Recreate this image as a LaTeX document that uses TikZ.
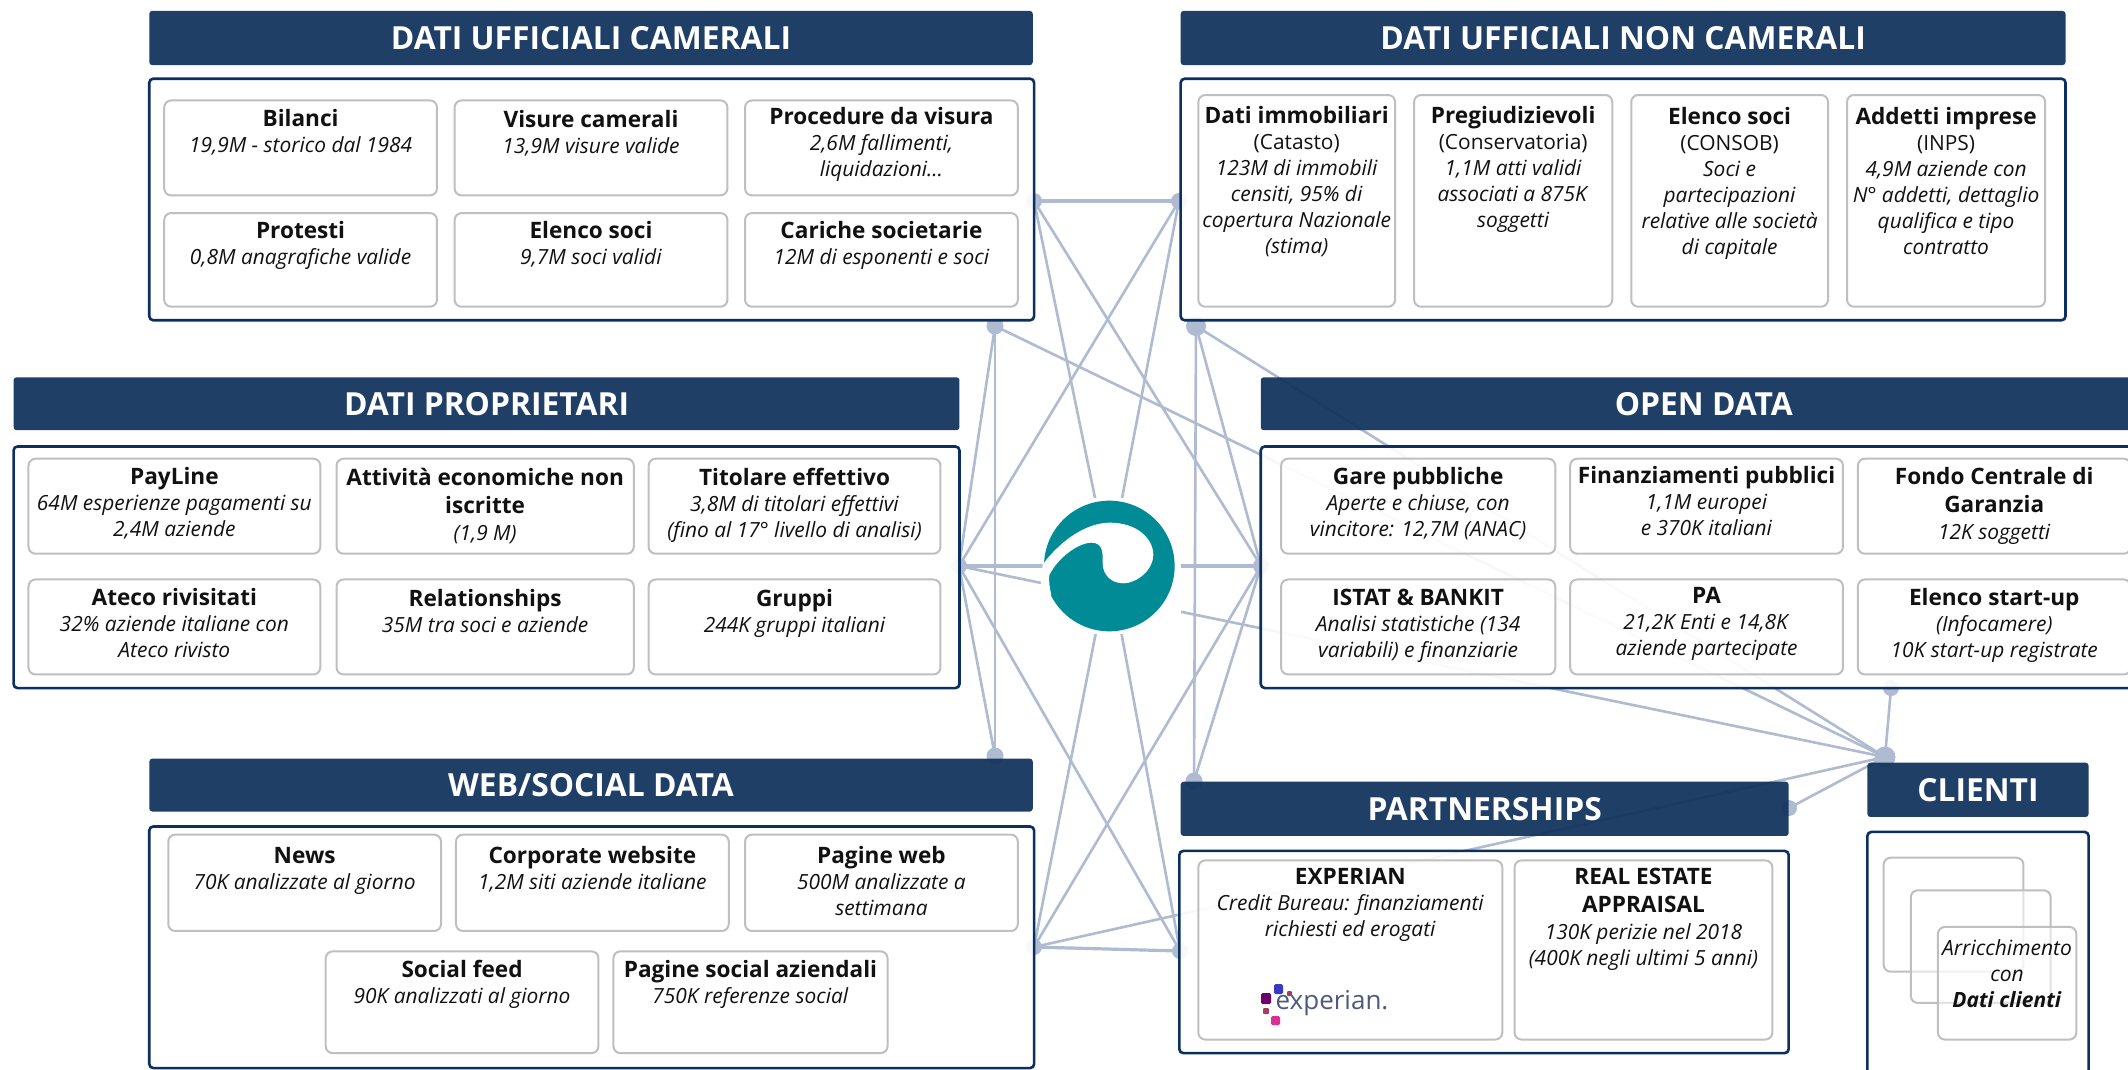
\documentclass[tikz,border=0pt]{standalone}
\usepackage{fontspec}
\setmainfont{Open Sans}
\definecolor{hdr}{HTML}{14355F}
\definecolor{pnl}{HTML}{0B2F60}
\definecolor{crd}{HTML}{BFBFBF}
\definecolor{lnk}{HTML}{AEBBD0}
\definecolor{teal2}{HTML}{008B96}
\definecolor{txt}{HTML}{111111}
\definecolor{exptxt}{HTML}{4D5A7C}
\tikzset{
  link/.style={draw=lnk,line width=2.6pt},
  linkb/.style={draw=lnk,line width=3.2pt},
  hub/.style={circle,fill=lnk,inner sep=0pt,minimum size=#1},
  header/.style={fill=hdr,fill opacity=.95,rounded corners=3pt,inner sep=0pt,text=white,text opacity=1,font=\fontsize{31.8}{34}\selectfont\bfseries},
  panel/.style={draw=pnl,line width=2.6pt,fill=white,fill opacity=.9,draw opacity=1,rounded corners=4pt,inner sep=0pt},
  cardbox/.style={draw=crd,line width=2pt,fill=white,fill opacity=.55,draw opacity=1,rounded corners=7pt,inner sep=0pt},
  cardtext/.style={anchor=north,align=center,inner sep=0pt,text=txt,font=\fontsize{20.9}{26}\selectfont}
}
\newcommand{\boxnode}[6]{% style, name, x0,y0,x1,y1 in 1568-scale
  \pgfmathsetmacro{\xa}{#3*1.3571}\pgfmathsetmacro{\ya}{#4*1.3571}
  \pgfmathsetmacro{\xb}{#5*1.3571}\pgfmathsetmacro{\yb}{#6*1.3571}
  \pgfmathsetmacro{\myw}{\xb-\xa}\pgfmathsetmacro{\myh}{\yb-\ya}
  \node[#1,minimum width=\myw pt,minimum height=\myh pt] (#2) at ({(\xa+\xb)/2},{(\ya+\yb)/2}) {};}
\newcommand{\hdrnode}[6]{%
  \pgfmathsetmacro{\xa}{#2*1.3571}\pgfmathsetmacro{\ya}{#3*1.3571}
  \pgfmathsetmacro{\xb}{#4*1.3571}\pgfmathsetmacro{\yb}{#5*1.3571}
  \pgfmathsetmacro{\myw}{\xb-\xa}\pgfmathsetmacro{\myh}{\yb-\ya}
  \node[header,minimum width=\myw pt,minimum height=\myh pt] (#1) at ({(\xa+\xb)/2},{(\ya+\yb)/2}) {#6};}
\newcommand{\ct}[1]{{\fontsize{22.6}{26}\selectfont\bfseries #1}}
\newcommand{\card}[7]{% name x0 y0 x1 y1 titlecentre text
  \boxnode{cardbox}{#1}{#2}{#3}{#4}{#5}
  \pgfmathsetmacro{\cx}{(#2+#4)/2*1.3571}\pgfmathsetmacro{\ty}{#6*1.3571+8-20}
  \node[cardtext] (#1t) at (\cx,\ty) {\rule{0pt}{20pt}#7};}
\begin{document}
\begin{tikzpicture}[x=1pt,y=-1pt]
\useasboundingbox (0,0) rectangle (2128,1069);
\fill[white] (0,0) rectangle (2128,1069);
% hub positions
\coordinate (pA) at (1034,201);
\coordinate (pB) at (1179,201);
\coordinate (pC) at (995,326);
\coordinate (pD) at (1196,326);
\coordinate (pE) at (959,566);
\coordinate (pF) at (1261,566);
\coordinate (pG) at (995,756);
\coordinate (pH) at (1194,781);
\coordinate (pI) at (1034,947);
\coordinate (pJ) at (1180,951);
\coordinate (pK) at (1891,688);
\coordinate (pL) at (1885,757);
\coordinate (pM) at (1789,808);
\coordinate (pO) at (1109,566);
% connectors
\draw[linkb] (pA)--(pB);
\draw[link] (pA)--(pO);
\draw[link] (pB)--(pO);
\draw[link] (pI)--(pO);
\draw[link] (pJ)--(pO);
\draw[linkb] (pE)--(pF);
\draw[link] (pA)--(pF);
\draw[link] (pB)--(pE);
\draw[link] (pC)--(pG);
\draw[link] (pC)--(pE);
\draw[link] (pE)--(pG);
\draw[link] (pE)--(pJ);
\draw[link] (pD)--(pH);
\draw[link] (pD)--(pF);
\draw[link] (pH)--(pF);
\draw[link] (pI)--(pF);
\draw[linkb] (pI)--(pJ);
\draw[link] (pC)--(pL);
\draw[link] (pD)--(pL);
\draw[link] (pE)--(pL);
\draw[link] (pI)--(pL);
\draw[link] (pK)--(pL);
\draw[link] (pM)--(pL);
% hubs
\node[hub=16pt] (hA) at (pA) {}; \node[hub=16pt] (hB) at (pB) {};
\node[hub=17pt] (hC) at (pC) {}; \node[hub=20pt] (hD) at (pD) {};
\node[hub=16pt] (hE) at (pE) {}; \node[hub=16pt] (hF) at (pF) {};
\node[hub=17pt] (hG) at (pG) {}; \node[hub=17pt] (hH) at (pH) {};
\node[hub=16pt] (hI) at (pI) {}; \node[hub=16pt] (hJ) at (pJ) {};
\node[hub=16pt] (hK) at (pK) {}; \node[hub=21pt] (hL) at (pL) {};
\node[hub=16pt] (hM) at (pM) {};
% logo
\node[fill=white,minimum size=136pt,inner sep=0pt] (logo) at (1112.5,566) {};
\begin{scope}[shift={(940,480)},x=0.3333pt,y=-0.3333pt]
  \fill[teal2] (508,258) circle (196);
  \fill[white] (308,254) .. controls (350,195) and (430,128) .. (510,128)
     .. controls (590,128) and (640,175) .. (640,225)
     .. controls (640,270) and (590,310) .. (550,310)
     .. controls (515,310) and (488,285) .. (488,250)
     .. controls (488,225) and (492,188) .. (455,188)
     .. controls (415,188) and (355,232) .. (328,285)
     .. controls (326,300) and (328,320) .. (334,345)
     -- (300,345) -- cycle;
\end{scope}
% panels
\boxnode{panel}{p1}{110}{58}{762}{236}
\boxnode{panel}{p2}{870}{58}{1522}{236}
\boxnode{panel}{p3}{10}{329}{707}{507}
\boxnode{panel}{p4}{929}{329}{1600}{507}
\boxnode{panel}{p5}{110}{609}{762}{787}
\boxnode{panel}{p6}{869}{627}{1318}{776}
\boxnode{panel}{p7}{1376}{613}{1539}{830}
% headers
\hdrnode{h1}{110}{8}{761}{48}{DATI UFFICIALI CAMERALI}
\hdrnode{h2}{870}{8}{1522}{48}{DATI UFFICIALI NON CAMERALI}
\hdrnode{h3}{10}{278}{707}{317}{DATI PROPRIETARI}
\hdrnode{h4x}{929}{278}{1582}{317}{OPEN DATA}
\hdrnode{h5}{110}{559}{761}{598}{WEB/SOCIAL DATA}
\hdrnode{h6}{870}{576}{1318}{616}{PARTNERSHIPS}
\hdrnode{h7}{1376}{562}{1539}{602}{CLIENTI}
% cards: camerali
\card{a1}{121}{74}{322}{144}{87}{\ct{Bilanci}\\\textit{19,9M - storico dal 1984}}
\card{a2}{335}{74}{536}{144}{88}{\ct{Visure camerali}\\\textit{13,9M visure valide}}
\card{a3}{549}{74}{750}{144}{86}{\ct{Procedure da visura}\\\textit{2,6M fallimenti,}\\\textit{liquidazioni…}}
\card{a4}{121}{157}{322}{226}{170}{\ct{Protesti}\\\textit{0,8M anagrafiche valide}}
\card{a5}{335}{157}{536}{226}{170}{\ct{Elenco soci}\\\textit{9,7M soci validi}}
\card{a6}{549}{157}{750}{226}{170}{\ct{Cariche societarie}\\\textit{12M di esponenti e soci}}
% non camerali
\card{b1}{883}{70}{1028}{226}{85}{\ct{Dati immobiliari}\\(Catasto)\\\textit{123M di immobili}\\\textit{censiti, 95\% di}\\\textit{copertura Nazionale}\\\textit{(stima)}}
\card{b2}{1042}{70}{1188}{226}{85}{\ct{Pregiudizievoli}\\(Conservatoria)\\\textit{1,1M atti validi}\\\textit{associati a 875K}\\\textit{soggetti}}
\card{b3}{1202}{70}{1347}{226}{86}{\ct{Elenco soci}\\(CONSOB)\\\textit{Soci e}\\\textit{partecipazioni}\\\textit{relative alle società}\\\textit{di capitale}}
\card{b4}{1361}{70}{1507}{226}{86}{\ct{Addetti imprese}\\(INPS)\\\textit{4,9M aziende con}\\\textit{N° addetti, dettaglio}\\\textit{qualifica e tipo}\\\textit{contratto}}
% proprietari
\card{c1}{21}{338}{236}{408}{351}{\ct{PayLine}\\\textit{64M esperienze pagamenti su}\\\textit{2,4M aziende}}
\card{c2}{248}{338}{467}{408}{352}{\ct{Attività economiche non}\\[2pt]\ct{iscritte}\\[1pt]\textit{(1,9 M)}}
\card{c3}{478}{338}{693}{408}{352}{\ct{Titolare effettivo}\\\textit{3,8M di titolari effettivi}\\\textit{(fino al 17° livello di analisi)}}
\card{c4}{21}{427}{236}{497}{440}{\ct{Ateco rivisitati}\\\textit{32\% aziende italiane con}\\\textit{Ateco rivisto}}
\card{c5}{248}{427}{467}{497}{441}{\ct{Relationships}\\\textit{35M tra soci e aziende}}
\card{c6}{478}{427}{693}{497}{441}{\ct{Gruppi}\\\textit{244K gruppi italiani}}
% open data
\card{d1}{944}{338}{1146}{408}{351}{\ct{Gare pubbliche}\\\textit{Aperte e chiuse, con}\\\textit{vincitore: 12,7M (ANAC)}}
\card{d2}{1157}{338}{1358}{408}{350}{\ct{Finanziamenti pubblici}\\\textit{1,1M europei}\\\textit{e 370K italiani}}
\card{d3}{1369}{338}{1570}{408}{351}{\ct{Fondo Centrale di}\\[2pt]\ct{Garanzia}\\[1pt]\textit{12K soggetti}}
\card{d4}{944}{427}{1146}{497}{440}{\ct{ISTAT \& BANKIT}\\\textit{Analisi statistiche (134}\\\textit{variabili) e finanziarie}}
\card{d5}{1157}{427}{1358}{497}{439}{\ct{PA}\\\textit{21,2K Enti e 14,8K}\\\textit{aziende partecipate}}
\card{d6}{1369}{427}{1570}{497}{440}{\ct{Elenco start-up}\\\textit{(Infocamere)}\\\textit{10K start-up registrate}}
% web
\card{e1}{124}{615}{325}{686}{630}{\ct{News}\\\textit{70K analizzate al giorno}}
\card{e2}{336}{615}{537}{686}{630}{\ct{Corporate website}\\\textit{1,2M siti aziende italiane}}
\card{e3}{549}{615}{750}{686}{630}{\ct{Pagine web}\\\textit{500M analizzate a}\\\textit{settimana}}
\card{e4}{240}{701}{441}{776}{714}{\ct{Social feed}\\\textit{90K analizzati al giorno}}
\card{e5}{452}{701}{654}{776}{714}{\ct{Pagine social aziendali}\\\textit{750K referenze social}}
% partnerships
\card{f1}{883}{634}{1107}{766}{646}{\ct{EXPERIAN}\\\textit{Credit Bureau: finanziamenti}\\\textit{richiesti ed erogati}}
\card{f2}{1116}{634}{1306}{766}{646}{\ct{REAL ESTATE}\\[2pt]\ct{APPRAISAL}\\[1pt]\textit{130K perizie nel 2018}\\\textit{(400K negli ultimi 5 anni)}}
% experian logo
\node[inner sep=0pt,text=exptxt,font=\fontsize{26}{28}\selectfont] (explogo) at (1332,1003) {experian.};
\fill[violet!85!black,rounded corners=1.5pt] (1261,993) rectangle (1271,1004);
\fill[blue!55!gray,rounded corners=1.5pt] (1274,984) rectangle (1283,994);
\fill[purple!50!gray,rounded corners=1pt] (1287,991) rectangle (1292,996);
\fill[purple!50!gray,rounded corners=1pt] (1263,1008) rectangle (1269,1014);
\fill[magenta!80!gray,rounded corners=1.5pt] (1271,1016) rectangle (1280,1025);
% clienti
\boxnode{cardbox}{g1}{1388}{632}{1491}{716}
\boxnode{cardbox}{g2}{1408}{656}{1511}{739}
\boxnode{cardbox}{g3}{1428}{683}{1530}{766}
\node[anchor=north,align=center,inner sep=0pt,text=txt,font=\fontsize{21}{26}\selectfont] (g3x) at (2007,935) {\rule{0pt}{20pt}\textit{Arricchimento}\\\textit{con}\\\textbf{\textit{Dati clienti}}};
\end{tikzpicture}
\end{document}
